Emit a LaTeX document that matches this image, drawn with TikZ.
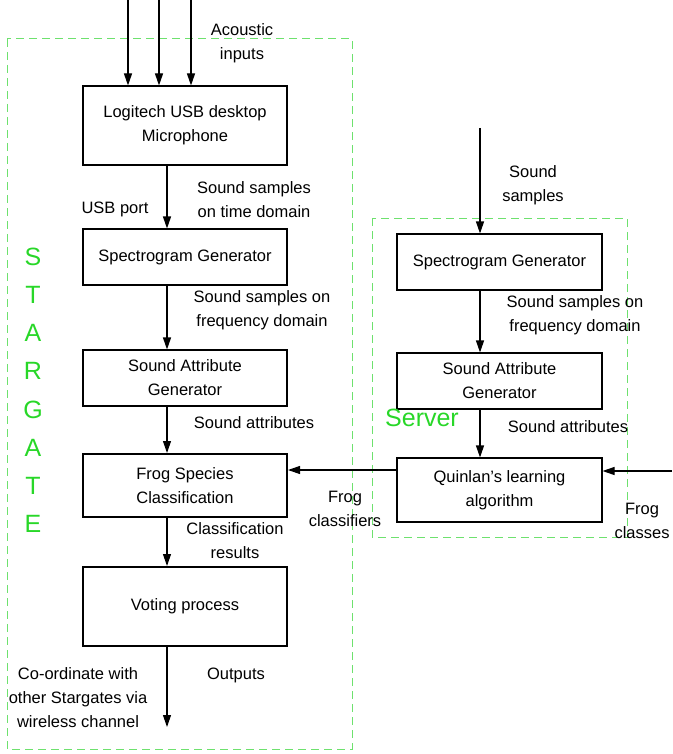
\documentclass[tikz,border=0pt]{standalone}
\usepackage{fontspec}
\setmainfont{Liberation Sans}
\usetikzlibrary{arrows.meta}
\definecolor{grn}{RGB}{40,215,40}
\definecolor{dgrn}{RGB}{110,225,110}
\begin{document}
\begin{tikzpicture}[x=1pt,y=-1pt,
  every node/.style={font=\fontsize{16.5}{24}\selectfont, inner sep=0pt},
  blk/.style={draw, line width=1.1pt, minimum width=204pt, align=center},
  bblk/.style={blk, line width=2pt},
  lbl/.style={align=center},
  arr/.style={line width=1.1pt, -{Triangle[length=12pt,width=8pt]}},
  grp/.style={draw=dgrn, line width=1pt, dash pattern=on 8pt off 5pt},
  big/.style={text=grn, font=\fontsize{25}{30}\selectfont}]
\useasboundingbox (0,0) rectangle (672,754);
% groups
\draw[grp] (7,39) rectangle (352,749);
\draw[grp] (372,218) rectangle (627,537);
% left column boxes
\node[blk, minimum height=79pt] (mic) at (185,125.5) {Logitech USB desktop\\Microphone};
\node[blk, minimum height=56pt] (specL) at (185,257) {Spectrogram Generator};
\node[blk, minimum height=56pt] (sagL) at (185,378) {Sound Attribute\\Generator};
\node[bblk, minimum height=63pt] (fsc) at (185,485.5) {Frog Species\\Classification};
\node[bblk, minimum height=79pt] (vote) at (185,606.5) {Voting process};
% right column boxes
\node[blk, minimum width=205pt, minimum height=56pt] (specR) at (499.5,262) {Spectrogram Generator};
\node[blk, minimum width=205pt, minimum height=56pt] (sagR) at (499.5,381) {Sound Attribute\\Generator};
\node[blk, minimum width=205pt, minimum height=64pt] (quin) at (499.5,490) {Quinlan's learning\\algorithm};
% coordinates
\coordinate (lx) at (167,0);
\coordinate (rx) at (480,0);
\coordinate (in1) at (128,0);
\coordinate (in2) at (159,0);
\coordinate (in3) at (191,0);
\coordinate (sin) at (480,128);
\coordinate (out) at (167,727);
\coordinate (hy) at (0,470);
\coordinate (fc) at (672,471);
% connectors
\draw[arr] (in1) -- (in1 |- mic.north);
\draw[arr] (in2) -- (in2 |- mic.north);
\draw[arr] (in3) -- (in3 |- mic.north);
\draw[arr] (mic.south -| lx) -- (specL.north -| lx);
\draw[arr] (specL.south -| lx) -- (sagL.north -| lx);
\draw[arr] (sagL.south -| lx) -- (fsc.north -| lx);
\draw[arr] (fsc.south -| lx) -- (vote.north -| lx);
\draw[arr] (vote.south -| lx) -- (out);
\draw[arr] (sin) -- (sin |- specR.north);
\draw[arr] (specR.south -| rx) -- (sagR.north -| rx);
\draw[arr] (sagR.south -| rx) -- (quin.north -| rx);
\draw[arr] (quin.west |- hy) -- (fsc.east |- hy);
\draw[arr] (fc) -- (quin.east |- fc);
% labels
\node[lbl] (lacou) at (242,43) {Acoustic\\inputs};
\node[lbl] (lusb) at (115,209) {USB port};
\node[lbl] (lsst) at (254,200) {Sound samples\\on time domain};
\node[lbl] (lsfL) at (262,310.5) {Sound samples on\\frequency domain};
\node[lbl] (lsaL) at (254,423) {Sound attributes};
\node[lbl] (lfcl) at (345,509) {Frog\\classifiers};
\node[lbl] (lcr) at (235,541) {Classification\\results};
\node[lbl] (lco) at (78,697.5) {Co-ordinate with\\other Stargates via\\wireless channel};
\node[lbl] (lout) at (236,675) {Outputs};
\node[lbl] (lss) at (533,185) {Sound\\samples};
\node[lbl] (lsfR) at (575,315.5) {Sound samples on\\frequency domain};
\node[lbl] (lsaR) at (568,427) {Sound attributes};
\node[lbl] (lfcs) at (642,521) {Frog\\classes};
\node[big] (srv) at (422,418) {Server};
% STARGATE
\foreach \ch [count=\i from 0] in {S,T,A,R,G,A,T,E}
  \node[big] (sg\i) at (33,257+38.1*\i) {\ch};
\end{tikzpicture}
\end{document}
